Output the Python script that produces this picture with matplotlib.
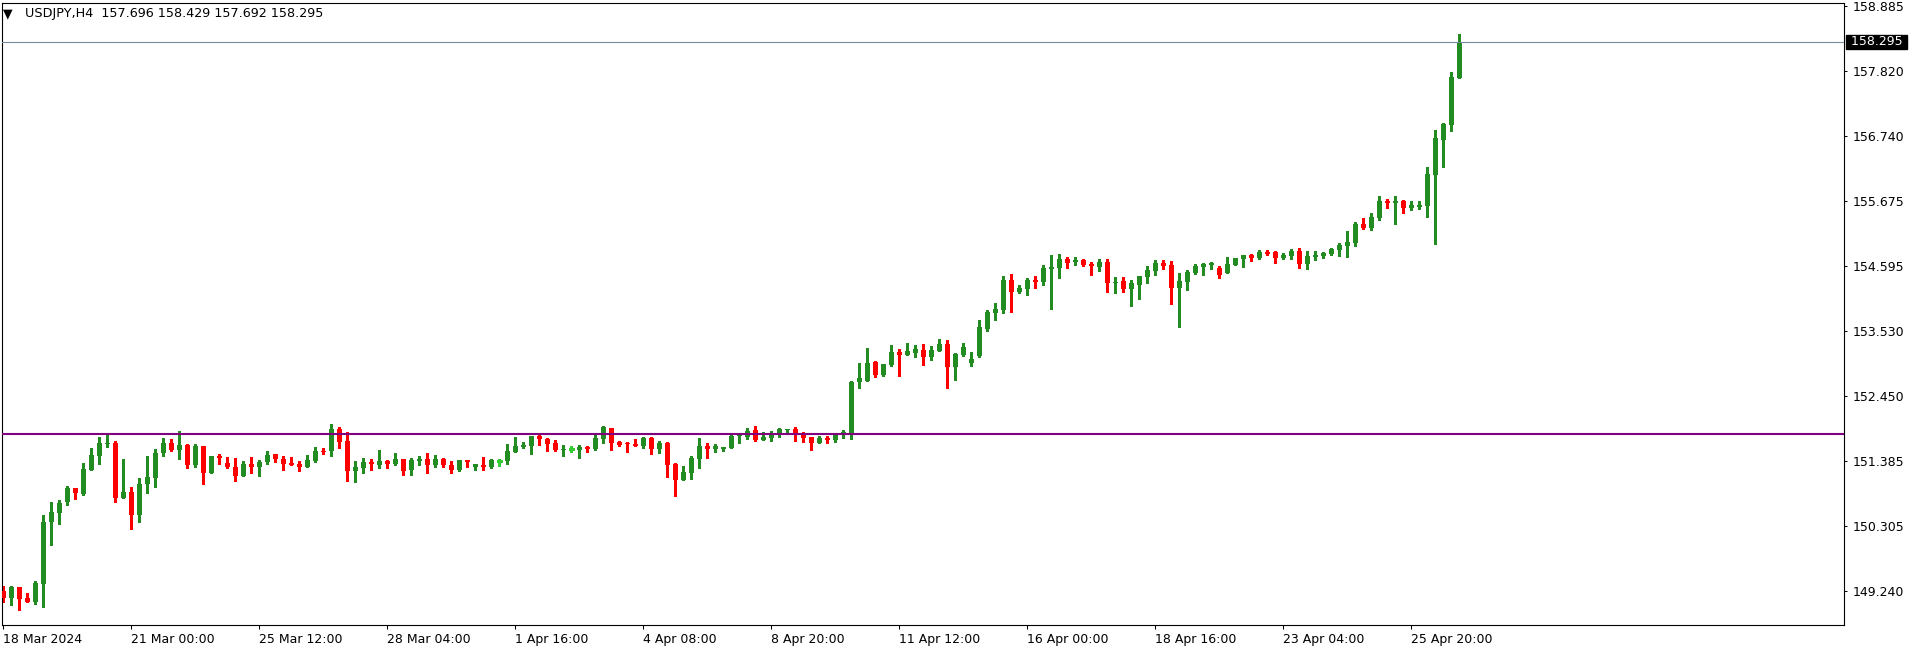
import matplotlib
matplotlib.use("Agg")
import matplotlib.pyplot as plt
import numpy as np

# ---------------- data (USDJPY, H4) ----------------
opens = [149.24, 149.13, 149.31, 149.12, 149.05, 149.36, 150.37, 150.53, 150.70, 150.94,
         150.84, 151.24, 151.47, 151.665, 151.68, 150.78, 150.87, 150.50, 151.00, 151.11,
         151.51, 151.68, 151.56, 151.65, 151.31, 151.63, 151.19, 151.47, 151.35, 151.29,
         151.14, 151.34, 151.29, 151.36, 151.50, 151.42, 151.35, 151.34, 151.28, 151.39,
         151.55, 151.54, 151.91, 151.72, 151.21, 151.26, 151.37, 151.32, 151.39, 151.34,
         151.42, 151.23, 151.39, 151.42, 151.31, 151.42, 151.32, 151.24, 151.40, 151.28,
         151.32, 151.28, 151.39, 151.385, 151.53, 151.62, 151.63, 151.80, 151.75, 151.68,
         151.57, 151.58, 151.57, 151.62, 151.58, 151.75, 151.93, 151.70, 151.67, 151.665,
         151.63, 151.76, 151.58, 151.68, 151.34, 151.07, 151.19, 151.42, 151.63, 151.58,
         151.58, 151.60, 151.79, 151.78, 151.90, 151.73, 151.76, 151.83, 151.90, 151.91,
         151.83, 151.78, 151.68, 151.76, 151.73, 151.81, 151.85, 152.68, 152.71, 153.02,
         152.80, 152.97, 153.18, 153.13, 153.17, 153.21, 153.10, 153.20, 153.31, 152.94,
         153.13, 153.00, 153.12, 153.56, 153.83, 153.88, 154.37, 154.17, 154.22, 154.37,
         154.34, 154.55, 154.57, 154.72, 154.67, 154.70, 154.63, 154.585, 154.67, 154.31,
         154.35, 154.22, 154.29, 154.42, 154.52, 154.65, 154.62, 154.24, 154.34, 154.49,
         154.585, 154.62, 154.57, 154.49, 154.62, 154.72, 154.78, 154.73, 154.83, 154.83,
         154.73, 154.77, 154.85, 154.63, 154.75, 154.77, 154.80, 154.87, 154.93, 154.98,
         155.29, 155.23, 155.39, 155.67, 155.64, 155.67, 155.56, 155.57, 155.59, 156.10,
         156.68, 156.92, 157.696]
highs = [149.32, 149.32, 149.31, 149.21, 149.40, 150.49, 150.71, 150.74, 150.97, 150.94,
         151.35, 151.60, 151.78, 151.81, 151.71, 151.42, 150.96, 151.10, 151.47, 151.58,
         151.76, 151.75, 151.88, 151.67, 151.67, 151.63, 151.47, 151.50, 151.45, 151.43,
         151.39, 151.45, 151.40, 151.55, 151.50, 151.47, 151.45, 151.39, 151.48, 151.62,
         151.60, 151.995, 151.95, 151.86, 151.39, 151.43, 151.42, 151.57, 151.40, 151.52,
         151.42, 151.43, 151.47, 151.52, 151.48, 151.43, 151.39, 151.40, 151.40, 151.34,
         151.45, 151.42, 151.41, 151.67, 151.78, 151.70, 151.80, 151.83, 151.76, 151.73,
         151.65, 151.63, 151.65, 151.63, 151.81, 151.96, 151.93, 151.72, 151.70, 151.75,
         151.78, 151.78, 151.72, 151.70, 151.35, 151.30, 151.47, 151.76, 151.68, 151.67,
         151.62, 151.83, 151.81, 151.93, 151.96, 151.86, 151.88, 151.93, 151.91, 151.95,
         151.86, 151.78, 151.80, 151.80, 151.83, 151.90, 152.705, 153.00, 153.25, 153.04,
         152.985, 153.30, 153.23, 153.33, 153.30, 153.31, 153.28, 153.40, 153.37, 153.17,
         153.33, 153.18, 153.70, 153.88, 153.99, 154.44, 154.47, 154.29, 154.40, 154.44,
         154.62, 154.78, 154.80, 154.75, 154.75, 154.72, 154.67, 154.72, 154.72, 154.42,
         154.42, 154.37, 154.44, 154.60, 154.70, 154.70, 154.68, 154.49, 154.54, 154.63,
         154.65, 154.67, 154.60, 154.75, 154.73, 154.78, 154.80, 154.87, 154.87, 154.85,
         154.82, 154.88, 154.90, 154.85, 154.85, 154.83, 154.90, 154.98, 155.18, 155.33,
         155.39, 155.47, 155.75, 155.70, 155.75, 155.69, 155.67, 155.67, 156.23, 156.84,
         156.96, 157.80, 158.429]
lows = [149.05, 149.01, 148.92, 149.05, 149.03, 148.98, 149.99, 150.35, 150.66, 150.76,
        150.83, 151.23, 151.34, 151.62, 150.71, 150.775, 150.27, 150.38, 150.85, 150.96,
        151.47, 151.54, 151.42, 151.26, 151.28, 151.01, 151.19, 151.34, 151.26, 151.06,
        151.14, 151.18, 151.13, 151.34, 151.36, 151.23, 151.31, 151.21, 151.28, 151.37,
        151.50, 151.46, 151.59, 151.06, 151.03, 151.18, 151.24, 151.26, 151.26, 151.32,
        151.16, 151.16, 151.32, 151.19, 151.28, 151.28, 151.18, 151.21, 151.29, 151.23,
        151.23, 151.26, 151.30, 151.34, 151.53, 151.605, 151.50, 151.65, 151.55, 151.55,
        151.47, 151.53, 151.43, 151.53, 151.57, 151.68, 151.57, 151.63, 151.53, 151.63,
        151.60, 151.50, 151.52, 151.12, 150.81, 151.07, 151.09, 151.27, 151.43, 151.53,
        151.55, 151.60, 151.68, 151.75, 151.72, 151.73, 151.72, 151.78, 151.83, 151.72,
        151.70, 151.57, 151.68, 151.68, 151.70, 151.76, 151.75, 152.58, 152.71, 152.76,
        152.79, 152.95, 152.79, 153.13, 153.09, 152.97, 153.05, 153.20, 152.59, 152.72,
        153.12, 152.95, 153.10, 153.53, 153.70, 153.83, 153.84, 154.16, 154.12, 154.24,
        154.29, 153.89, 154.40, 154.57, 154.62, 154.60, 154.45, 154.52, 154.17, 154.16,
        154.17, 153.94, 154.06, 154.31, 154.45, 154.55, 153.975, 153.60, 154.21, 154.47,
        154.45, 154.55, 154.40, 154.49, 154.62, 154.585, 154.68, 154.72, 154.78, 154.65,
        154.72, 154.72, 154.57, 154.55, 154.70, 154.73, 154.78, 154.77, 154.75, 154.93,
        155.21, 155.19, 155.36, 155.56, 155.29, 155.47, 155.52, 155.54, 155.41, 154.96,
        156.23, 156.83, 157.692]
closes = [149.13, 149.31, 149.11, 149.05, 149.37, 150.38, 150.54, 150.69, 150.94, 150.85,
          151.25, 151.48, 151.68, 151.675, 150.78, 150.87, 150.50, 151.01, 151.12, 151.52,
          151.68, 151.56, 151.65, 151.31, 151.63, 151.19, 151.47, 151.44, 151.29, 151.14,
          151.34, 151.29, 151.37, 151.48, 151.42, 151.34, 151.32, 151.28, 151.40, 151.55,
          151.53, 151.91, 151.70, 151.21, 151.28, 151.37, 151.34, 151.39, 151.34, 151.42,
          151.21, 151.40, 151.42, 151.31, 151.42, 151.31, 151.24, 151.40, 151.36, 151.34,
          151.28, 151.40, 151.39, 151.55, 151.63, 151.65, 151.80, 151.75, 151.67, 151.57,
          151.58, 151.58, 151.62, 151.58, 151.76, 151.95, 151.68, 151.65, 151.66, 151.63,
          151.76, 151.58, 151.68, 151.32, 151.07, 151.20, 151.43, 151.63, 151.58, 151.63,
          151.62, 151.80, 151.80, 151.88, 151.73, 151.78, 151.83, 151.91, 151.91, 151.83,
          151.76, 151.68, 151.76, 151.73, 151.81, 151.86, 152.69, 152.75, 153.00, 152.80,
          152.985, 153.18, 153.13, 153.20, 153.23, 153.10, 153.21, 153.31, 152.94, 153.15,
          153.27, 153.07, 153.60, 153.84, 153.89, 154.37, 154.17, 154.24, 154.37, 154.34,
          154.57, 154.585, 154.72, 154.65, 154.70, 154.62, 154.60, 154.67, 154.31, 154.34,
          154.22, 154.31, 154.44, 154.54, 154.65, 154.60, 154.24, 154.35, 154.50, 154.60,
          154.63, 154.65, 154.45, 154.63, 154.73, 154.78, 154.73, 154.83, 154.80, 154.73,
          154.78, 154.85, 154.63, 154.77, 154.78, 154.82, 154.88, 154.95, 155.00, 155.29,
          155.23, 155.41, 155.67, 155.64, 155.67, 155.56, 155.61, 155.61, 156.12, 156.71,
          156.94, 157.72, 158.295]

x_tick_labels = ["18 Mar 2024", "21 Mar 00:00", "25 Mar 12:00", "28 Mar 04:00",
                 "1 Apr 16:00", "4 Apr 08:00", "8 Apr 20:00", "11 Apr 12:00",
                 "16 Apr 00:00", "18 Apr 16:00", "23 Apr 04:00", "25 Apr 20:00"]
y_tick_values = [158.885, 157.820, 156.740, 155.675, 154.595, 153.530,
                 152.450, 151.385, 150.305, 149.240]
resistance_level = 151.83
last_price = 158.295
title_text = "USDJPY,H4  157.696 158.429 157.692 158.295"

# ---------------- figure ----------------
W, H = 1916, 652
fig = plt.figure(figsize=(W / 100, H / 100), dpi=100)
fig.patch.set_facecolor("white")
ax = fig.add_axes([2 / W, (H - 625) / H, (1844 - 2) / W, (625 - 2.5) / H])
ax.set_facecolor("white")

o = np.array(opens)
h = np.array(highs)
l = np.array(lows)
c = np.array(closes)
x = np.arange(len(o))

GREEN = "#228B22"
RED = "#FF0000"
LIME = "#32CD32"

up = c > o
down = c < o
flat = c == o

wick_cols = np.where(up, GREEN, np.where(down, RED, LIME))
ax.vlines(x, l, h, colors=wick_cols, linewidth=0.75, antialiased=False, zorder=2)

body_w = 0.68
min_h = 0.017
bottoms = np.minimum(o, c)
heights = np.maximum(np.abs(c - o), min_h)
body_cols = np.where(up, GREEN, RED)
sel = ~flat
ax.bar(x[sel], heights[sel], bottom=bottoms[sel], width=body_w, color=body_cols[sel],
       linewidth=0, antialiased=False, zorder=3)
ax.hlines(c[flat], x[flat] - body_w / 2, x[flat] + body_w / 2, colors=LIME,
          linewidth=0.75, antialiased=False, zorder=3)

# horizontal lines
ax.axhline(resistance_level, color="#800080", linewidth=1.5, zorder=4)
ax.axhline(last_price, color="#778899", linewidth=0.8, zorder=4)

ax.set_xlim(-0.1625, 230.09)
ax.set_ylim(148.679, 158.943)

for s in ax.spines.values():
    s.set_color("black")
    s.set_linewidth(0.8)

# x axis
ax.set_xticks(x[::16][:len(x_tick_labels)])
ax.set_xticklabels(x_tick_labels)
for lab in ax.get_xticklabels():
    lab.set_horizontalalignment("left")
ax.tick_params(axis="x", direction="out", length=3, width=0.75, pad=2.5,
               labelsize=9, colors="black")

# y axis on the right
ax.set_yticks(y_tick_values)
ax.set_yticklabels([f"{v:.3f}" for v in y_tick_values])
ax.tick_params(axis="y", left=False, right=True, labelleft=False, labelright=True,
               direction="out", length=2.5, width=0.75, pad=3.5, labelsize=9,
               colors="black")

# current price label
ax.annotate(" " + f"{last_price:.3f}" + " ", xy=(1.0, last_price),
            xycoords=("axes fraction", "data"), xytext=(1.9, 0),
            textcoords="offset points", ha="left", va="center", color="white",
            fontsize=9, annotation_clip=False,
            bbox=dict(boxstyle="square,pad=0.05", fc="black", ec="black"))

# title
fig.text(3 / W, 1 - 14 / H, "\u25BC", fontsize=9, ha="left", va="center", color="black")
fig.text(25 / W, 1 - 14 / H, title_text, fontsize=9.2, ha="left", va="center", color="black")

fig.savefig("out.png", dpi=100, facecolor="white")
